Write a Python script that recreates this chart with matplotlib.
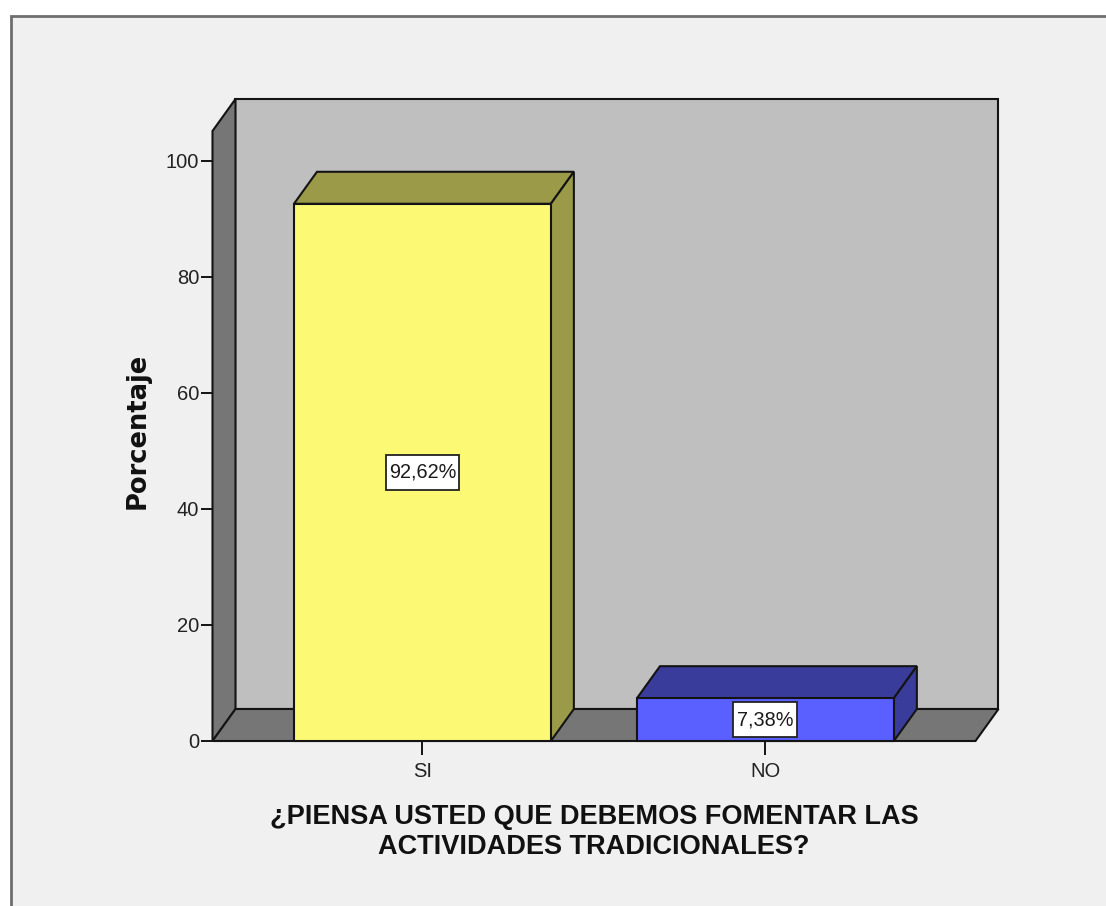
import matplotlib
matplotlib.use('Agg')
import matplotlib.pyplot as plt
from matplotlib.patches import Polygon, Rectangle

categorias = ['SI', 'NO']
porcentajes = [92.62, 7.38]
etiquetas = ['92,62%', '7,38%']
yticks = [0, 20, 40, 60, 80, 100]
titulo_x = '¿PIENSA USTED QUE DEBEMOS FOMENTAR LAS\nACTIVIDADES TRADICIONALES?'

colores = ['#FCF974', '#5A5FFF']
colores_lado = ['#9B9A48', '#3A3C9C']
W, H = 1106, 906
ancho = 0.749
ymax = 105.17
# profundidad del efecto 3D
dx = 23 / 343
dy = 32 / 5.8
negro = '#141414'
# cajas de las etiquetas, en pixeles
caja_ancho = [73, 64]
caja_alto = 35

plt.rcParams['font.family'] = ['Liberation Sans', 'DejaVu Sans']
fig = plt.figure(figsize=(W / 100, H / 100), dpi=100, facecolor='white')

# panel de fondo
panel = Rectangle((11 / W, -0.01), 1.1, 1 - 16 / H + 0.01, transform=fig.transFigure,
                  facecolor='#F0F0F0', edgecolor='#6E6E6E', linewidth=2, zorder=-1)
fig.patches.append(panel)

ax = fig.add_axes([212.5 / W, 1 - 741 / H, (975.5 - 212.5) / W, (741 - 131) / H])
ax.patch.set_visible(False)
ax.set_xlim(-0.612, 1.6125)
ax.set_ylim(0, ymax)
x0, x1 = ax.get_xlim()
px_x = (x1 - x0) / 763
px_y = ymax / 610


def poly(puntos, color, z):
    ax.add_patch(Polygon(puntos, closed=True, facecolor=color, edgecolor=negro,
                         linewidth=1.5, joinstyle='miter', clip_on=False, zorder=z))


# paredes y suelo
poly([(x0 + dx, dy), (x1 + dx, dy), (x1 + dx, ymax + dy), (x0 + dx, ymax + dy)], '#BFBFBF', 1)
poly([(x0, 0), (x0 + dx, dy), (x0 + dx, ymax + dy), (x0, ymax)], '#767676', 1)
poly([(x0, 0), (x1, 0), (x1 + dx, dy), (x0 + dx, dy)], '#767676', 1)

# barras
for i, v in enumerate(porcentajes):
    izq = i - ancho / 2
    der = i + ancho / 2
    poly([(izq, v), (der, v), (der + dx, v + dy), (izq + dx, v + dy)], colores_lado[i], 3)
    poly([(der, 0), (der + dx, dy), (der + dx, v + dy), (der, v)], colores_lado[i], 3)
    poly([(izq, 0), (der, 0), (der, v), (izq, v)], colores[i], 4)
    bw = caja_ancho[i] * px_x
    bh = caja_alto * px_y
    ax.add_patch(Rectangle((i - bw / 2, v / 2 - bh / 2), bw, bh, facecolor='white',
                           edgecolor='#222222', linewidth=1.3, zorder=5))
    ax.text(i, v / 2, etiquetas[i], ha='center', va='center', fontsize=14.3, color='#1A1A1A', zorder=6)

for lado in ax.spines.values():
    lado.set_visible(False)

ax.set_yticks(yticks)
ax.set_xticks(range(len(categorias)))
ax.set_xticklabels(categorias)
ax.tick_params(axis='y', length=8.5, width=1.4, color=negro, labelsize=14.5, labelcolor='#222222', pad=1)
ax.tick_params(axis='x', length=10, width=1.4, color=negro, labelsize=14.5, labelcolor='#222222', pad=5)

fig.text(137.5 / W, 1 - 431 / H, 'Porcentaje', rotation=90, ha='center', va='center',
         fontsize=18.5, fontweight='bold', color='#111111', family='DejaVu Sans')
fig.text(594 / W, 1 - 832 / H, titulo_x, ha='center', va='center', fontsize=19.5,
         fontweight='bold', color='#111111', linespacing=1.2)

fig.savefig('out.png', dpi=100, facecolor='white')
